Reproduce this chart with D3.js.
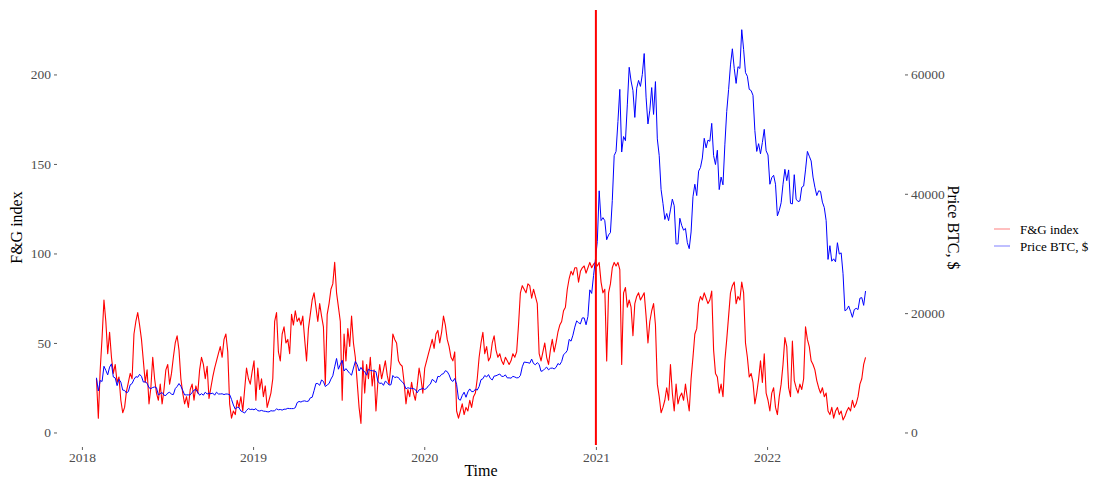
<!DOCTYPE html>
<html>
<head>
<meta charset="utf-8">
<script src="https://cdn.jsdelivr.net/npm/d3@7"></script>
<style>
  body { margin: 0; background: #ffffff; }
  svg { display: block; font-family: "Liberation Serif", "Times New Roman", serif; }
</style>
</head>
<body>
<svg id="chart" width="1093" height="480"></svg>
<script>
// Both series are sampled every 4 days from 2018-02-01 (one line per month)
const sampleStart = "2018-02-01";
const sampleStepDays = 4;

// Fear & Greed index
const fgValues = [
  30, 8, 35, 53, 74, 62, 44,
  56, 42, 33, 38, 28, 31, 18, 11,
  14, 23, 28, 33, 30, 55, 62, 67,
  60, 52, 40, 28, 35, 16, 25,
  42, 30, 22, 18, 27, 16, 24, 35,
  38, 27, 33, 42, 50, 54, 46, 30,
  22, 16, 20, 14, 24, 27, 18,
  26, 22, 35, 42, 38, 30, 37, 19,
  25, 31, 36, 40, 44, 48, 42, 52,
  55, 45, 16, 8, 12, 10, 18,
  14, 20, 12, 24, 36, 30, 27, 34,
  // 2019
  40, 18, 36, 24, 30, 20, 26, 14,
  18, 22, 30, 62, 67, 45, 40,
  55, 59, 50, 52, 44, 66, 60,
  68, 62, 64, 60, 65, 52, 40, 58,
  66, 74, 78, 70, 62, 72, 65, 59,
  27, 66, 72, 80, 83, 95, 78,
  70, 62, 18, 55, 40, 58, 48, 65,
  50, 42, 28, 14, 5, 40, 22, 38,
  30, 42, 26, 35, 12, 28, 38,
  30, 35, 40, 32, 27, 38, 55, 52,
  50, 40, 38, 37, 28, 16, 24,
  20, 28, 22, 18, 26, 36, 30, 22,
  // 2020
  36, 40, 44, 48, 52, 47, 55, 57,
  50, 56, 65, 60, 52, 48, 42,
  40, 45, 12, 8, 12, 16, 10, 14,
  12, 18, 14, 20, 22, 30, 42,
  50, 56, 44, 48, 40, 42, 50, 54,
  46, 42, 44, 40, 38, 42, 40, 38,
  40, 44, 42, 45, 60, 78, 82,
  80, 78, 83, 82, 75, 80, 76, 72,
  44, 40, 45, 50, 42, 38, 46, 52,
  45, 50, 56, 60, 62, 68, 70,
  80, 86, 90, 88, 92, 92, 84, 90,
  92, 93, 89, 92, 95, 92, 94, 95,
  // 2021
  93, 95, 84, 78, 80, 40, 78,
  83, 92, 95, 93, 95, 91, 38,
  78, 81, 70, 74, 70, 54, 72, 76,
  78, 74, 76, 78, 65, 50, 62, 68,
  72, 60, 27, 20, 11, 14, 18,
  25, 18, 38, 22, 12, 27, 16, 20,
  22, 18, 27, 19, 12, 30, 42, 55,
  58, 72, 76, 74, 78, 75, 72,
  74, 79, 46, 33, 31, 22, 27, 20,
  40, 52, 65, 78, 82, 84, 72, 76,
  74, 84, 78, 50, 42, 31, 33,
  28, 16, 22, 30, 40, 28, 44, 22,
  // 2022
  18, 12, 22, 25, 14, 10, 20, 27,
  38, 53, 48, 25, 20, 51, 29,
  25, 22, 27, 24, 30, 59, 52,
  48, 40, 38, 35, 29, 25, 22, 25,
  20, 22, 12, 10, 14, 8, 12, 14,
  10, 12, 7, 9, 12, 14, 12,
  18, 14, 16, 20, 27, 30, 38, 42
];

// BTC closing price, USD
const priceValues = [
  9170, 6950, 8700, 8550, 11100, 10400, 9650,
  10950, 11500, 9300, 9150, 7850, 8900, 8450, 7100,
  7050, 6620, 6850, 8000, 8200, 8900, 9350, 9250,
  9750, 9400, 8450, 8500, 8250, 7500, 7350,
  7540, 7620, 7500, 6300, 6500, 6700, 6250, 6200,
  6600, 6750, 6400, 6350, 7350, 7700, 8200, 7750,
  7050, 6300, 6300, 6300, 6300, 6700, 7100,
  7200, 6750, 6250, 6500, 6250, 6750, 6450, 6600,
  6500, 6600, 6250, 6750, 6450, 6450, 6480, 6350,
  6450, 6430, 6350, 5550, 4600, 3900, 4250,
  4150, 3600, 3450, 3250, 3700, 4000, 3850, 3900,
  // 2019
  3800, 4000, 3650, 3600, 3700, 3580, 3550, 3470,
  3450, 3650, 3600, 3650, 3950, 3800, 3850,
  3750, 3900, 3900, 4050, 4000, 4000, 4000,
  4150, 5000, 5200, 5100, 5250, 5300, 5200, 5250,
  5800, 5900, 7000, 8200, 8200, 7900, 8800, 8550,
  7700, 7950, 8200, 8950, 9500, 11000, 12400,
  10600, 11400, 12100, 10300, 10700, 10300, 9900, 9600,
  10800, 11900, 11400, 10300, 10900, 10400, 10200, 9600,
  10600, 10400, 10350, 10300, 10200, 8600, 8200,
  8300, 7900, 8600, 8350, 7950, 8000, 9550, 9200,
  9300, 9200, 8750, 8500, 8100, 7300, 7500,
  7400, 7400, 7350, 7200, 6650, 7150, 7250, 7400,
  // 2020
  7200, 7400, 7850, 8100, 8900, 8650, 8350, 9400,
  9350, 9750, 9850, 10350, 10200, 9650, 8800,
  8550, 9050, 8050, 5600, 5400, 6200, 6750, 5900,
  6800, 7300, 6850, 6850, 7250, 7100, 7700,
  8850, 9000, 9550, 9300, 9700, 9050, 8800, 9450,
  9500, 9650, 9800, 9400, 9400, 9650, 9150, 9150,
  9100, 9400, 9300, 9150, 9180, 9550, 11000,
  11800, 11750, 11700, 11600, 12300, 11550, 11350, 11700,
  11400, 10250, 10350, 10680, 10950, 10500, 10750, 10800,
  10650, 10900, 11550, 11350, 11900, 13050, 13300,
  13750, 15600, 15300, 16300, 17650, 18700, 18400, 18200,
  19200, 19200, 18050, 19450, 23900, 23300, 26300, 29000,
  // 2021
  32000, 40500, 35500, 36000, 35500, 32300, 33100,
  33500, 38900, 46400, 47100, 52100, 57500, 47000,
  49600, 48900, 54900, 61200, 58900, 57300, 52800, 57700,
  59000, 58000, 60000, 63500, 56200, 51700, 54000, 57800,
  53300, 58800, 49200, 46400, 40700, 38400, 35700,
  36700, 35500, 37300, 39100, 38000, 31600, 31600, 35900,
  34700, 33900, 34200, 31800, 30800, 33600, 39500, 41600,
  39700, 43800, 44400, 46000, 49300, 47700, 49000,
  48800, 51800, 46400, 44900, 47300, 40700, 42800, 41500,
  48200, 53800, 57500, 61600, 64300, 61000, 58500, 61300,
  61000, 67500, 64200, 60300, 59700, 57500, 57300,
  56500, 50600, 47100, 48400, 46700, 48600, 50800, 47200,
  // 2022
  46500, 41600, 42700, 43100, 41600, 36300, 37200, 38500,
  41600, 44100, 42200, 44000, 38400, 38300, 43200,
  39100, 38700, 38800, 41100, 41300, 44000, 47100,
  46300, 45500, 42800, 41100, 39700, 40500, 40400, 38600,
  37700, 35500, 29000, 31300, 28700, 29100, 28600, 31800,
  29900, 30100, 26600, 20400, 20600, 21200, 20300,
  19300, 20600, 20800, 20600, 22500, 22600, 21300, 23700
];

// Price is drawn on the index scale divided by this factor (secondary axis)
const priceScaleFactor = 300;
const markerDate = "2021-01-01";
const fgTicks = [0, 50, 100, 150, 200];
const priceTicks = [0, 20000, 40000, 60000];
const yearTicks = ["2018", "2019", "2020", "2021", "2022"];
const seriesNames = ["F&G index", "Price BTC, $"];
const seriesColors = ["#FF0000", "#0000FF"];
const axisTitles = { x: "Time", yLeft: "F&G index", yRight: "Price BTC, $" };

const parse = d3.utcParse("%Y-%m-%d");
const parseYear = d3.utcParse("%Y");
const start = parse(sampleStart);
const dateAt = i => d3.utcDay.offset(start, i * sampleStepDays);

const fgData = fgValues.map((v, i) => ({ date: dateAt(i), value: v }));
const priceData = priceValues.map((v, i) => ({ date: dateAt(i), value: v }));

// Panel geometry
const panel = { left: 58, right: 904, top: 10, bottom: 445 };

const svg = d3.select("#chart");

// x: data range padded by 5% on each side
const t0 = start;
const t1 = d3.max([fgData[fgData.length - 1].date, priceData[priceData.length - 1].date]);
const span = t1 - t0;
const x = d3.scaleUtc()
  .domain([new Date(+t0 - span * 0.05), new Date(+t1 + span * 0.05)])
  .range([panel.left, panel.right]);

// y: shared index scale; price uses the same positions divided by the factor
const yLimits = [-7, 236];
const y = d3.scaleLinear().domain(yLimits).range([panel.bottom, panel.top]);
const yPrice = d3.scaleLinear()
  .domain(yLimits.map(v => v * priceScaleFactor))
  .range([panel.bottom, panel.top]);

// Lines
const fgLine = d3.line().x(d => x(d.date)).y(d => y(d.value));
const priceLine = d3.line().x(d => x(d.date)).y(d => yPrice(d.value));

svg.append("path")
  .datum(fgData)
  .attr("d", fgLine)
  .attr("fill", "none")
  .attr("stroke", seriesColors[0])
  .attr("stroke-width", 1.1)
  .attr("stroke-linejoin", "round");

svg.append("path")
  .datum(priceData)
  .attr("d", priceLine)
  .attr("fill", "none")
  .attr("stroke", seriesColors[1])
  .attr("stroke-width", 1)
  .attr("stroke-linejoin", "round");

// Vertical marker at the start of 2021
svg.append("line")
  .attr("x1", x(parse(markerDate)))
  .attr("x2", x(parse(markerDate)))
  .attr("y1", panel.top)
  .attr("y2", panel.bottom)
  .attr("stroke", "#FF0000")
  .attr("stroke-width", 2);

// Axes
function styleAxis(g) {
  g.select(".domain").remove();
  g.selectAll(".tick line").attr("stroke", "#333333").attr("stroke-width", 0.8);
  g.selectAll(".tick text")
    .attr("fill", "#4D4D4D")
    .style("font-size", "13.5px")
    .style("font-family", "'Liberation Serif', 'Times New Roman', serif");
}

svg.append("g")
  .attr("transform", `translate(${panel.left - 1},0)`)
  .call(d3.axisLeft(y).tickValues(fgTicks).tickSize(3).tickPadding(3))
  .call(styleAxis);

svg.append("g")
  .attr("transform", `translate(${panel.right + 1},0)`)
  .call(d3.axisRight(yPrice).tickValues(priceTicks).tickFormat(d3.format("d"))
    .tickSize(3).tickPadding(3))
  .call(styleAxis);

svg.append("g")
  .attr("transform", `translate(0,${panel.bottom + 2})`)
  .call(d3.axisBottom(x)
    .tickValues(yearTicks.map(parseYear))
    .tickFormat(d3.utcFormat("%Y"))
    .tickSize(3).tickPadding(2))
  .call(styleAxis);

// Axis titles
svg.append("text")
  .attr("x", (panel.left + panel.right) / 2)
  .attr("y", 476)
  .attr("text-anchor", "middle")
  .style("font-size", "16px")
  .attr("fill", "#000")
  .text(axisTitles.x);

svg.append("text")
  .attr("transform", `translate(22,${(panel.top + panel.bottom) / 2}) rotate(-90)`)
  .attr("text-anchor", "middle")
  .style("font-size", "16px")
  .attr("fill", "#000")
  .text(axisTitles.yLeft);

svg.append("text")
  .attr("transform", `translate(948,${(panel.top + panel.bottom) / 2}) rotate(90)`)
  .attr("text-anchor", "middle")
  .style("font-size", "16px")
  .attr("fill", "#000")
  .text(axisTitles.yRight);

// Legend
const legend = svg.append("g").attr("transform", "translate(994,229)");
seriesNames.forEach((name, i) => {
  const row = legend.append("g").attr("transform", `translate(0,${i * 17})`);
  row.append("line")
    .attr("x1", 0).attr("x2", 16).attr("y1", 0).attr("y2", 0)
    .attr("stroke", seriesColors[i])
    .attr("stroke-width", 1)
    .attr("stroke-opacity", 0.5);
  row.append("text")
    .attr("x", 26).attr("y", 0).attr("dy", "0.35em")
    .style("font-size", "13px")
    .attr("fill", "#000")
    .text(name);
});
</script>
</body>
</html>
